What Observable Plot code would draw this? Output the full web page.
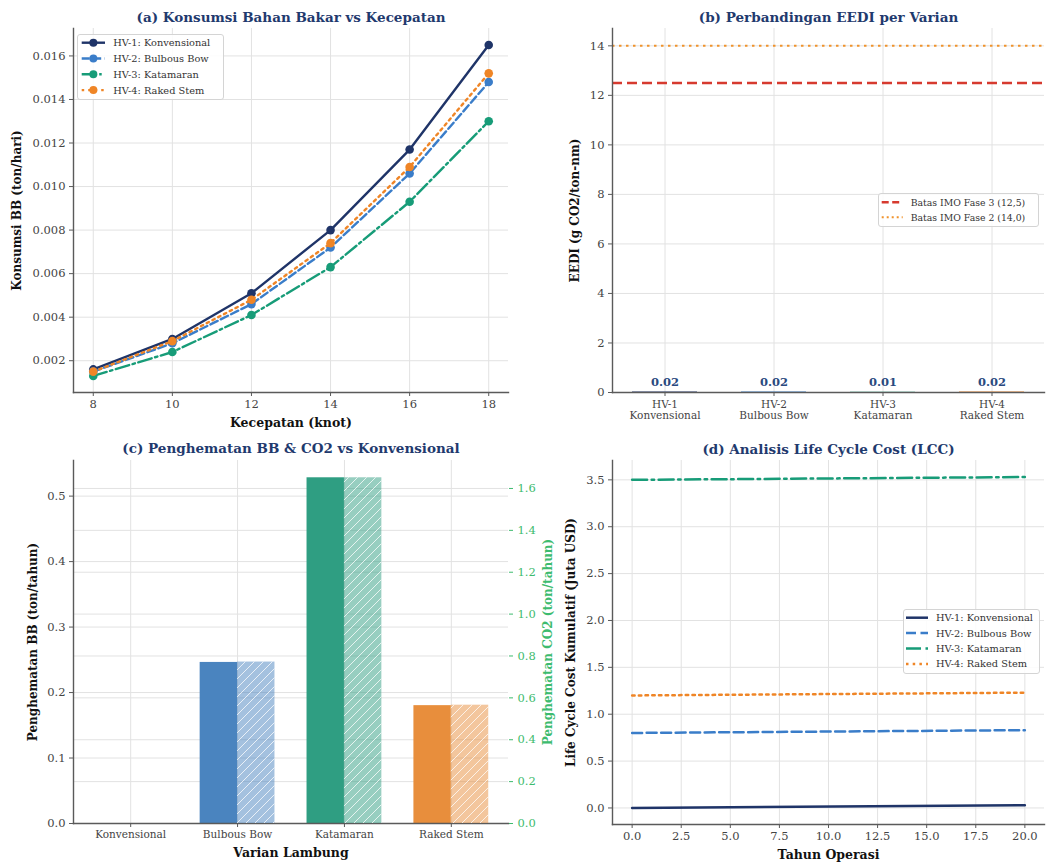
<!DOCTYPE html>
<html>
<head>
<meta charset="utf-8">
<script src="https://cdn.jsdelivr.net/npm/d3@7"></script>
<script src="https://cdn.jsdelivr.net/npm/@observablehq/plot@0.6"></script>
<style>
html,body{margin:0;padding:0;background:#fff;}
#root{position:relative;width:1046px;height:864px;overflow:hidden;background:#fff;}
</style>
</head>
<body>
<div id="root"></div>
<script>
// ---------------- DATA ----------------
// (a) fuel consumption vs speed
const speeds = [8, 10, 12, 14, 16, 18];
const fuelHV1 = [0.0016, 0.0030, 0.0051, 0.0080, 0.0117, 0.0165];
const fuelHV2 = [0.0015, 0.0028, 0.0046, 0.0072, 0.0106, 0.0148];
const fuelHV3 = [0.0013, 0.0024, 0.0041, 0.0063, 0.0093, 0.0130];
const fuelHV4 = [0.0015, 0.0029, 0.0048, 0.0074, 0.0109, 0.0152];
const seriesNames = ["HV-1: Konvensional", "HV-2: Bulbous Bow", "HV-3: Katamaran", "HV-4: Raked Stem"];
const fuelTicks = [0.002, 0.004, 0.006, 0.008, 0.010, 0.012, 0.014, 0.016];

// (b) EEDI
const eediCategories = ["HV-1\nKonvensional", "HV-2\nBulbous Bow", "HV-3\nKatamaran", "HV-4\nRaked Stem"];
const eediValues = [0.02, 0.02, 0.01, 0.02];
const imoPhase3 = 12.5;
const imoPhase2 = 14.0;
const imoNames = ["Batas IMO Fase 3 (12,5)", "Batas IMO Fase 2 (14,0)"];
const eediTicks = [0, 2, 4, 6, 8, 10, 12, 14];

// (c) savings vs conventional
const hullNames = ["Konvensional", "Bulbous Bow", "Katamaran", "Raked Stem"];
const fuelSaving = [0, 0.246, 0.528, 0.180];
const co2Saving = [0, 0.771, 1.651, 0.565];
const fuelSavingTicks = [0, 0.1, 0.2, 0.3, 0.4, 0.5];
const co2SavingTicks = [0, 0.2, 0.4, 0.6, 0.8, 1.0, 1.2, 1.4, 1.6];

// (d) life cycle cost
const years = [0, 20];
const lccHV1 = [0.00, 0.03];
const lccHV2 = [0.80, 0.83];
const lccHV3 = [3.50, 3.53];
const lccHV4 = [1.20, 1.23];
const yearTicks = [0, 2.5, 5, 7.5, 10, 12.5, 15, 17.5, 20];
const lccTicks = [0, 0.5, 1.0, 1.5, 2.0, 2.5, 3.0, 3.5];

// ---------------- STYLE ----------------
const seriesColors = ["#1f3468", "#3a7dc9", "#179c78", "#ef8526"];
const savingColors = ["#1f3468", "#4a84bf", "#2f9e82", "#e88e3c"];
const lineDash = [undefined, "8,3.5", "14,3.5,2.5,3.5", "2.5,4"];
const TITLE_C = "#1f3a6e";
const CO2_C = "#3dbb6e";
const FONT = '"DejaVu Serif", serif';
const GRID = "#e2e2e2";
const SPINE = "#5a5a5a";
const TICK_TXT = "#444";
const TICK_FS = 11.5;
const root = document.getElementById("root");

function pad(lo, hi, f = 0.05) { const r = hi - lo; return [lo - r * f, hi + r * f]; }
function mount(svg, left, top) {
  svg.style.position = "absolute";
  svg.style.left = left + "px";
  svg.style.top = top + "px";
  root.appendChild(svg);
  return svg;
}
const baseStyle = {fontFamily: FONT, fontSize: "11px", background: "transparent", overflow: "visible", color: "#222"};
const frameText = (t, o) => Plot.text([t], {text: d => d, fontFamily: FONT, textAnchor: "middle", lineAnchor: "middle", ...o});
const titleMark = (t, dy) => frameText(t, {frameAnchor: "top", dy, fontWeight: "bold", fontSize: 13.5, fill: TITLE_C});
const yLabelMark = (t, dx, fill = "#111", anchor = "left", rot = -90) => frameText(t, {frameAnchor: anchor, rotate: rot, dx, fontWeight: "bold", fontSize: 12, fill});
const xLabelMark = (t, dy) => frameText(t, {frameAnchor: "bottom", dy, fontWeight: "bold", fontSize: 12.5, fill: "#111"});
const spines = () => [
  Plot.frame({anchor: "left", stroke: SPINE, strokeWidth: 1.4}),
  Plot.frame({anchor: "bottom", stroke: SPINE, strokeWidth: 1.4})
];
const axisOpts = {tickSize: 4, label: null, fill: TICK_TXT, stroke: SPINE, fontSize: TICK_FS};

// hatch pattern
const NS = "http://www.w3.org/2000/svg";
const defsSvg = document.createElementNS(NS, "svg");
defsSvg.setAttribute("width", 0); defsSvg.setAttribute("height", 0);
defsSvg.style.position = "absolute";
defsSvg.innerHTML = `<defs><pattern id="hatch" patternUnits="userSpaceOnUse" width="9" height="9">
<path d="M-2,2 L2,-2 M0,9 L9,0 M7,11 L11,7" stroke="#ffffff" stroke-opacity="0.75" stroke-width="1"/></pattern></defs>`;
root.appendChild(defsSvg);

// ---------------- LEGEND helper ----------------
function legendBox(x, y, w, h, items, o) {
  const svg = document.createElementNS(NS, "svg");
  svg.setAttribute("width", w); svg.setAttribute("height", h);
  svg.style.position = "absolute"; svg.style.left = x + "px"; svg.style.top = y + "px";
  let html = `<rect x="0.5" y="0.5" width="${w - 1}" height="${h - 1}" rx="2.5" fill="#fff" fill-opacity="0.85" stroke="#d4d4d4"/>`;
  items.forEach((it, i) => {
    const cy = o.row0 + i * o.step;
    html += `<line x1="${o.sx1}" x2="${o.sx2}" y1="${cy}" y2="${cy}" stroke="${it.color}" stroke-width="${it.width || 2.4}" ${it.dash ? `stroke-dasharray="${it.dash}"` : ""}/>`;
    if (o.marker) html += `<circle cx="${(o.sx1 + o.sx2) / 2}" cy="${cy}" r="4" fill="${it.color}"/>`;
    html += `<text x="${o.tx}" y="${cy}" dy="0.35em" font-family='${FONT}' font-size="${o.fontSize}" fill="#333">${it.label}</text>`;
  });
  svg.innerHTML = html;
  root.appendChild(svg);
}

// ---------------- PANEL (a) ----------------
const fuelSeries = [fuelHV1, fuelHV2, fuelHV3, fuelHV4];
const axDom = pad(d3.min(speeds), d3.max(speeds));
const ayDom = pad(d3.min(fuelSeries.flat()), d3.max(fuelSeries.flat()));
mount(Plot.plot({
  width: 520, height: 430, marginTop: 28, marginRight: 12, marginBottom: 38, marginLeft: 73,
  style: baseStyle,
  x: {domain: axDom}, y: {domain: ayDom},
  marks: [
    Plot.gridX({ticks: speeds, stroke: GRID, strokeOpacity: 1}),
    Plot.gridY({ticks: fuelTicks, stroke: GRID, strokeOpacity: 1}),
    ...fuelSeries.flatMap((vals, k) => {
      const rows = speeds.map((s, i) => ({s, v: vals[i]}));
      return [
        Plot.line(rows, {x: "s", y: "v", stroke: seriesColors[k], strokeWidth: 2.4, strokeDasharray: lineDash[k]}),
        Plot.dot(rows, {x: "s", y: "v", r: 4.3, fill: seriesColors[k]})
      ];
    }),
    ...spines(),
    Plot.axisX({ticks: speeds, tickPadding: 3, ...axisOpts}),
    Plot.axisY({ticks: fuelTicks, tickFormat: d => d.toFixed(3), tickPadding: 4, ...axisOpts}),
    titleMark("(a) Konsumsi Bahan Bakar vs Kecepatan", -11),
    yLabelMark("Konsumsi BB (ton/hari)", -56),
    xLabelMark("Kecepatan (knot)", 30)
  ]
}), 0, 0);
legendBox(77, 34, 147, 66,
  seriesNames.map((n, k) => ({label: n, color: seriesColors[k], dash: lineDash[k]})),
  {row0: 8.7, step: 15.8, sx1: 4.7, sx2: 28, tx: 36.3, fontSize: 9.8, marker: true});

// ---------------- PANEL (b) ----------------
const bRows = eediCategories.map((c, i) => ({c, v: eediValues[i], color: seriesColors[i]}));
const bHi = Math.max(d3.max(eediValues), imoPhase3, imoPhase2);
const byDom = [0, bHi * 1.05];
const IMO3_C = "#d63a2f", IMO2_C = "#f0922b";
mount(Plot.plot({
  width: 526, height: 430, marginTop: 28, marginRight: 2, marginBottom: 38, marginLeft: 92,
  style: baseStyle,
  x: {type: "band", domain: eediCategories, paddingInner: 0.4, paddingOuter: 0.18},
  y: {domain: byDom},
  color: {type: "identity"},
  marks: [
    Plot.gridX({stroke: GRID, strokeOpacity: 1}),
    Plot.gridY({ticks: eediTicks, stroke: GRID, strokeOpacity: 1}),
    Plot.barY(bRows, {x: "c", y: "v", fill: "color"}),
    Plot.text(bRows, {x: "c", y: "v", text: d => d.v.toFixed(2), dy: -10, fontWeight: "bold", fontSize: 11.5, fill: "#2a4a7f", fontFamily: FONT}),
    Plot.ruleY([imoPhase3], {stroke: IMO3_C, strokeWidth: 2.6, strokeDasharray: "10,5"}),
    Plot.ruleY([imoPhase2], {stroke: IMO2_C, strokeWidth: 2, strokeDasharray: "2.5,4.5"}),
    ...spines(),
    Plot.axisX({tickPadding: 3, ...axisOpts, fontSize: 10.5, lineHeight: 1.1}),
    Plot.axisY({ticks: eediTicks, tickPadding: 4, ...axisOpts}),
    titleMark("(b) Perbandingan EEDI per Varian", -11),
    yLabelMark("EEDI (g CO2/ton-nm)", -37)
  ]
}), 520, 0);
legendBox(878, 193, 161, 34,
  [{label: imoNames[0], color: IMO3_C, dash: "7,3.5", width: 2.6}, {label: imoNames[1], color: IMO2_C, dash: "2,3", width: 2}],
  {row0: 9.3, step: 15, sx1: 3.7, sx2: 24.7, tx: 32.7, fontSize: 9.3});

// ---------------- PANEL (c) ----------------
const cRows = hullNames.map((n, i) => ({i, n, bb: fuelSaving[i], co2: co2Saving[i], color: savingColors[i]}));
const BARW = 0.35;
const cxDom = pad(-BARW, hullNames.length - 1 + BARW);
const cyL = [0, d3.max(fuelSaving) * 1.05];
const cyR = [0, d3.max(co2Saving) * 1.05];
const cDims = {width: 520, height: 434, marginTop: 30, marginRight: 12, marginBottom: 41, marginLeft: 73};
// layer 1: right-axis grid
mount(Plot.plot({
  ...cDims, style: baseStyle,
  x: {domain: cxDom, axis: null}, y: {domain: cyR, axis: null},
  marks: [Plot.gridY({ticks: co2SavingTicks, stroke: GRID, strokeOpacity: 1})]
}), 0, 430);
// layer 2: left axis, fuel bars
mount(Plot.plot({
  ...cDims, style: baseStyle,
  x: {domain: cxDom}, y: {domain: cyL},
  color: {type: "identity"},
  marks: [
    Plot.gridX({ticks: d3.range(hullNames.length), stroke: GRID, strokeOpacity: 1}),
    Plot.gridY({ticks: fuelSavingTicks, stroke: GRID, strokeOpacity: 1}),
    Plot.rectY(cRows, {x1: d => d.i - BARW, x2: d => d.i, y: "bb", fill: "color", inset: 0}),
    ...spines(),
    Plot.axisX({ticks: d3.range(hullNames.length), tickFormat: i => hullNames[i], tickPadding: 3, ...axisOpts, fontSize: 10.5}),
    Plot.axisY({ticks: fuelSavingTicks, tickFormat: d => d.toFixed(1), tickPadding: 4, ...axisOpts}),
    titleMark("(c) Penghematan BB & CO2 vs Konvensional", -11.7),
    yLabelMark("Penghematan BB (ton/tahun)", -40),
    xLabelMark("Varian Lambung", 29)
  ]
}), 0, 430);
// layer 3: right axis, CO2 bars
mount(Plot.plot({
  ...cDims, style: baseStyle,
  x: {domain: cxDom, axis: null}, y: {domain: cyR, axis: null},
  color: {type: "identity"},
  marks: [
    Plot.rectY(cRows, {x1: d => d.i, x2: d => d.i + BARW, y: "co2", fill: "color", fillOpacity: 0.5, inset: 0}),
    Plot.rectY(cRows, {x1: d => d.i, x2: d => d.i + BARW, y: "co2", fill: "url(#hatch)", inset: 0}),
    Plot.axisY({anchor: "right", ticks: co2SavingTicks, tickFormat: d => d.toFixed(1), tickSize: 4, tickPadding: 5, label: null, fill: CO2_C, stroke: CO2_C, fontSize: TICK_FS}),
    yLabelMark("Penghematan CO2 (ton/tahun)", 40, CO2_C, "right", -90)
  ]
}), 0, 430);

// ---------------- PANEL (d) ----------------
const lccSeries = [lccHV1, lccHV2, lccHV3, lccHV4];
const dxDom = pad(d3.min(years), d3.max(years));
const dyDom = pad(d3.min(lccSeries.flat()), d3.max(lccSeries.flat()));
const lccDash = [undefined, "10,4.5", "15,4.5,2.5,4.5", "2.5,4.2"];
mount(Plot.plot({
  width: 526, height: 434, marginTop: 30, marginRight: 2, marginBottom: 40, marginLeft: 92,
  style: baseStyle,
  x: {domain: dxDom}, y: {domain: dyDom},
  marks: [
    Plot.gridX({ticks: yearTicks, stroke: GRID, strokeOpacity: 1}),
    Plot.gridY({ticks: lccTicks, stroke: GRID, strokeOpacity: 1}),
    ...lccSeries.map((vals, k) => Plot.line(years.map((t, i) => ({t, v: vals[i]})),
      {x: "t", y: "v", stroke: seriesColors[k], strokeWidth: 2.5, strokeDasharray: lccDash[k]})),
    ...spines(),
    Plot.axisX({ticks: yearTicks, tickFormat: d => d.toFixed(1), tickPadding: 3, ...axisOpts}),
    Plot.axisY({ticks: lccTicks, tickFormat: d => d.toFixed(1), tickPadding: 4, ...axisOpts}),
    titleMark("(d) Analisis Life Cycle Cost (LCC)", -11),
    yLabelMark("Life Cycle Cost Kumulatif (Juta USD)", -41),
    xLabelMark("Tahun Operasi", 30)
  ]
}), 520, 430);
legendBox(903, 609, 137, 65,
  seriesNames.map((n, k) => ({label: n, color: seriesColors[k], dash: lccDash[k], width: 2.5})),
  {row0: 8.7, step: 15.4, sx1: 3, sx2: 25, tx: 33, fontSize: 9.8});
</script>
</body>
</html>
